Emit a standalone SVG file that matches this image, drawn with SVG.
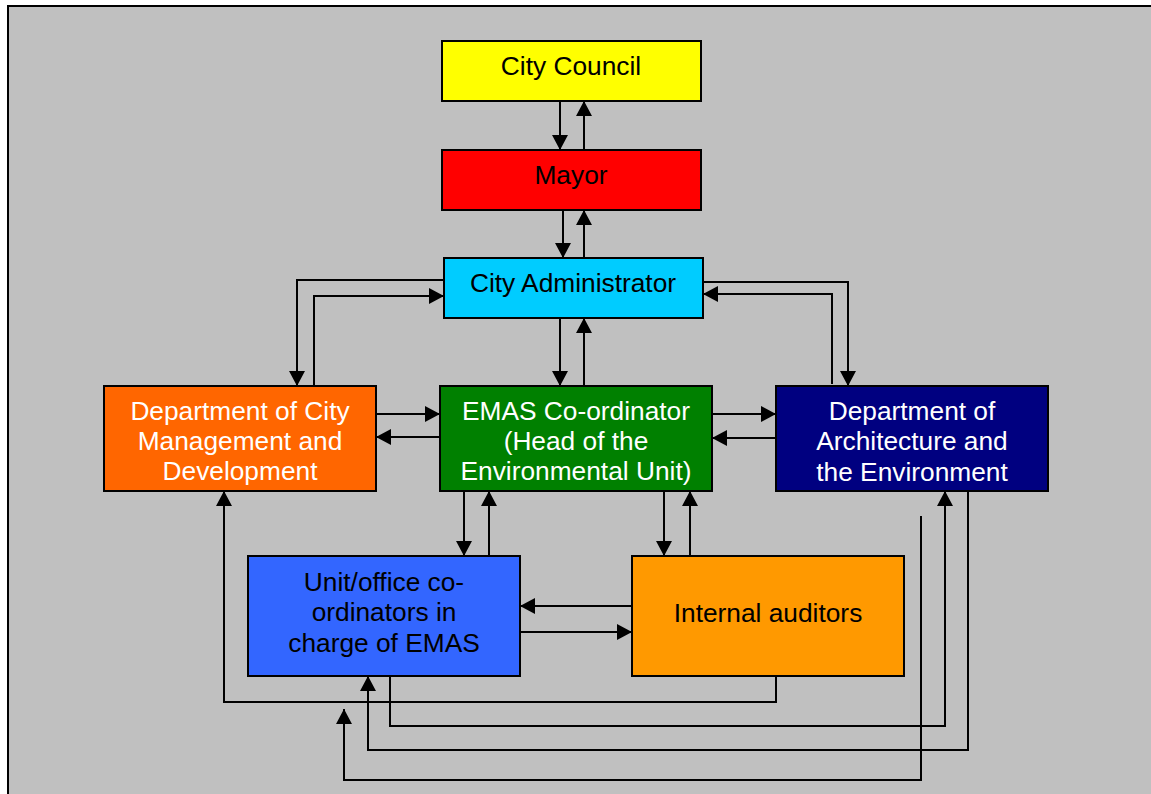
<svg xmlns="http://www.w3.org/2000/svg" width="1151" height="794" viewBox="0 0 1151 794">
<defs>
<marker id="ah" markerUnits="userSpaceOnUse" markerWidth="16" markerHeight="16" refX="15" refY="8" orient="auto">
<path d="M0,0 L15,8 L0,16 z" fill="#000"/>
</marker>
<style>
.box{stroke:#000;stroke-width:2}
.t{font-family:"Liberation Sans",Arial,sans-serif;font-size:26.3px;text-anchor:middle}
.w{fill:#fff}
.k{fill:#000}
.c{fill:none;stroke:#000;stroke-width:2}
.a{marker-end:url(#ah)}
</style>
</defs>
<rect x="0" y="0" width="1151" height="794" fill="#fff"/>
<rect x="8" y="6" width="1160" height="800" fill="#C0C0C0" stroke="#000" stroke-width="2"/>
<g id="connectors">
<line class="c a" x1="560" y1="101" x2="560" y2="150"/>
<line class="c a" x1="584" y1="150" x2="584" y2="101"/>
<line class="c a" x1="563" y1="210" x2="563" y2="258"/>
<line class="c a" x1="584" y1="258" x2="584" y2="210"/>
<line class="c a" x1="560" y1="318" x2="560" y2="386"/>
<line class="c a" x1="584" y1="386" x2="584" y2="318"/>
<polyline class="c a" points="444,280 297,280 297,386"/>
<polyline class="c a" points="314,386 314,296 444,296"/>
<polyline class="c a" points="703,282 848,282 848,386"/>
<polyline class="c a" points="832,384 832,294 703,294"/>
<line class="c a" x1="376" y1="414" x2="440" y2="414"/>
<line class="c a" x1="440" y1="437" x2="376" y2="437"/>
<line class="c a" x1="712" y1="414" x2="776" y2="414"/>
<line class="c a" x1="776" y1="438" x2="712" y2="438"/>
<line class="c a" x1="464" y1="491" x2="464" y2="556"/>
<line class="c a" x1="489" y1="556" x2="489" y2="491"/>
<line class="c a" x1="664" y1="491" x2="664" y2="556"/>
<line class="c a" x1="690" y1="556" x2="690" y2="491"/>
<line class="c a" x1="632" y1="606" x2="520" y2="606"/>
<line class="c a" x1="520" y1="632" x2="632" y2="632"/>
<polyline class="c a" points="776,676 776,702 224,702 224,491"/>
<polyline class="c a" points="390,676 390,726 945,726 945,491"/>
<polyline class="c a" points="968,491 968,750 368,750 368,676"/>
<polyline class="c a" points="921,516 921,780 344,780 344,709"/>
</g>
<g id="city-council">
<rect class="box" x="442" y="41" width="259" height="60" fill="#FFFF00"/>
<text class="t k" x="571" y="75">City Council</text>
</g>
<g id="mayor">
<rect class="box" x="442" y="150" width="259" height="60" fill="#FF0000"/>
<text class="t k" x="571" y="184">Mayor</text>
</g>
<g id="city-administrator">
<rect class="box" x="444" y="258" width="259" height="60" fill="#00CCFF"/>
<text class="t k" x="573" y="292">City Administrator</text>
</g>
<g id="dept-city">
<rect class="box" x="104" y="386" width="272" height="105" fill="#FF6600"/>
<text class="t w" x="240" y="420">Department of City</text>
<text class="t w" x="240" y="450">Management and</text>
<text class="t w" x="240" y="480">Development</text>
</g>
<g id="emas">
<rect class="box" x="440" y="386" width="272" height="105" fill="#008000"/>
<text class="t w" x="576" y="420">EMAS Co-ordinator</text>
<text class="t w" x="576" y="450">(Head of the</text>
<text class="t w" x="576" y="480">Environmental Unit)</text>
</g>
<g id="dept-arch">
<rect class="box" x="776" y="386" width="272" height="105" fill="#000080"/>
<text class="t w" x="912" y="420">Department of</text>
<text class="t w" x="912" y="450">Architecture and</text>
<text class="t w" x="912" y="481">the Environment</text>
</g>
<g id="unit-office">
<rect class="box" x="248" y="556" width="272" height="120" fill="#3366FF"/>
<text class="t k" x="384" y="591">Unit/office co-</text>
<text class="t k" x="384" y="621">ordinators in</text>
<text class="t k" x="384" y="652">charge of EMAS</text>
</g>
<g id="internal-auditors">
<rect class="box" x="632" y="556" width="272" height="120" fill="#FF9900"/>
<text class="t k" x="768" y="622">Internal auditors</text>
</g>
</svg>
